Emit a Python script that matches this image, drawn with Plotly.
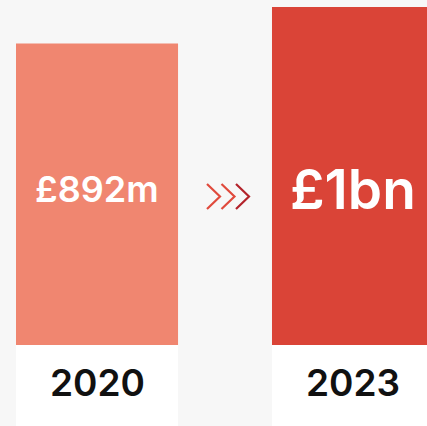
"""
Revenue growth: 2020 vs 2023 bar comparison.
"""

import plotly.graph_objects as go

# Data
years = ["2020", "2023"]
revenue_m = [892, 1000]
value_labels = ["£892m", "£1bn"]
bar_colors = ["#f08670", "#da4437"]
value_font_sizes = [36, 55]

FONT = "Inter"
BG = "#f7f7f7"
BAR_WIDTH = 0.633
Y_MIN = -240


def add_chevrons(fig):
    """Three thin chevrons between the bars (decoration, paper coords)."""
    w, h = 427.0, 419.0
    starts = [207, 221.5, 236]
    colors = ["#e04a3c", "#e04a3c", "#b3232b"]
    for x0, col in zip(starts, colors):
        pts = [(x0, 184), (x0 + 13, 196.5), (x0, 209)]
        path = "M {} {} L {} {} L {} {}".format(
            *[v for px, py in pts for v in (px / w, (426 - py) / h)]
        )
        fig.add_shape(
            type="path", path=path, xref="paper", yref="paper",
            line=dict(color=col, width=2.2),
        )


fig = go.Figure()

fig.add_trace(
    go.Bar(
        x=years,
        y=revenue_m,
        width=BAR_WIDTH,
        marker=dict(color=bar_colors, line=dict(width=0)),
        hoverinfo="skip",
    )
)

# White boxes under the bars holding the year labels
for i, yr in enumerate(years):
    fig.add_shape(
        type="rect", xref="x", yref="y",
        x0=i - BAR_WIDTH / 2, x1=i + BAR_WIDTH / 2,
        y0=Y_MIN, y1=0,
        fillcolor="white", line=dict(width=0), layer="below",
    )
    fig.add_annotation(
        x=i, y=-112, xref="x", yref="y", text=yr, showarrow=False,
        font=dict(family=FONT, size=37, color="#111111", weight=600),
    )

for i, (lbl, size) in enumerate(zip(value_labels, value_font_sizes)):
    fig.add_annotation(
        x=i, y=462, xref="x", yref="y", text=lbl, showarrow=False,
        font=dict(family=FONT, size=size, color="white", weight=600),
    )

add_chevrons(fig)

fig.update_layout(
    width=427,
    height=426,
    margin=dict(l=0, r=0, t=7, b=0),
    paper_bgcolor=BG,
    plot_bgcolor=BG,
    showlegend=False,
    xaxis=dict(visible=False, type="category", range=[-0.379, 1.289]),
    yaxis=dict(visible=False, range=[Y_MIN, 1000]),
)

fig.write_html(
    "out.html",
    config={"displayModeBar": False},
    post_script="document.body.style.margin='0';document.body.style.background='#f7f7f7';",
)
